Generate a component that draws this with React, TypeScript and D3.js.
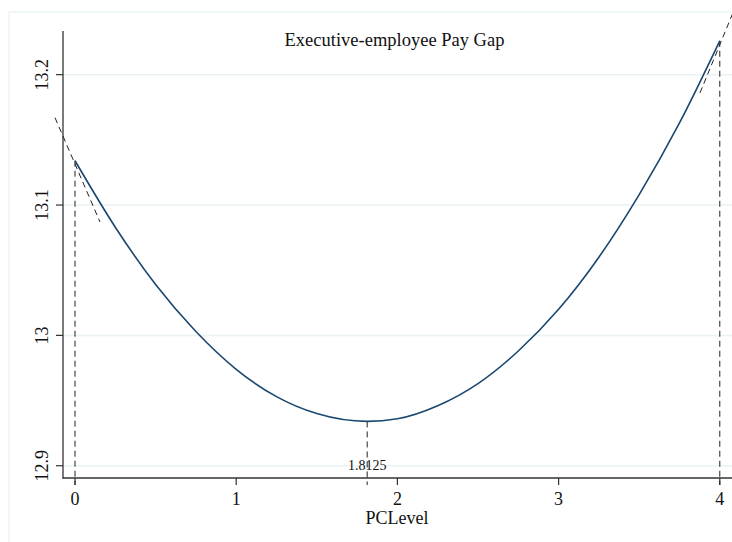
import React, { useEffect } from "react";
import * as d3 from "d3";

// fitted curve
const pcLevel = [0, 0.25, 0.5, 0.75, 1, 1.25, 1.5, 1.8125, 2, 2.25, 2.5, 2.75, 3, 3.25, 3.5, 3.75, 4];
const payGap = [13.134, 13.083, 13.039, 13.003, 12.974, 12.953, 12.94, 12.934, 12.936, 12.946, 12.963, 12.988, 13.02, 13.06, 13.108, 13.163, 13.226];

const xTicks = [0, 1, 2, 3, 4];
const yTicks = [12.9, 13, 13.1, 13.2];

// slope segments at the two ends
const leftSlopeX = [-0.124, 0.155];
const leftSlopeY = [13.167, 13.087];
const rightSlopeX = [3.877, 4.13];
const rightSlopeY = [13.186, 13.262];

const turningPoint = 1.8125;
const turningLabel = "1.8125";

const title = "Executive-employee Pay Gap";
const xTitle = "PCLevel";

const W = 732,
  H = 542;

const App = () => {
  useEffect(() => {
    document.body.style.margin = "0";
  }, []);

  const x = d3.scaleLinear().domain([-0.0745, 4.0745]).range([63, 731.8]);
  const y = d3.scaleLinear().domain([12.8906, 13.2335]).range([478, 31]);

  const pts = pcLevel.map((v, i) => ({ x: v, y: payGap[i] }));
  const curve = d3
    .line<{ x: number; y: number }>()
    .x((d) => x(d.x))
    .y((d) => y(d.y))
    .curve(d3.curveMonotoneX)(pts);

  const seg = (xs: number[], ys: number[]) =>
    d3.line<number>().x((d) => x(d)).y((d, i) => y(ys[i]))(xs);

  const first = pts[0],
    last = pts[pts.length - 1],
    low = pts[pcLevel.indexOf(turningPoint)];

  const font = "'Liberation Serif', 'Times New Roman', serif";
  const dash = "6 4";
  const ink = "#333";

  return (
    <svg width={W} height={H} style={{ display: "block" }} fontFamily={font}>
      <rect x={0} y={0} width={W} height={H} fill="#fff" />
      {/* outer frame */}
      <rect x={9} y={12} width={W} height={H} fill="none" stroke="#edf3f3" strokeWidth={1.5} />

      {/* grid */}
      {yTicks.map((t) => (
        <line key={t} x1={63} x2={W} y1={y(t)} y2={y(t)} stroke="#eaf2f3" strokeWidth={1.5} />
      ))}

      {/* axes */}
      <line x1={63} x2={63} y1={31} y2={478.5} stroke={ink} strokeWidth={1.3} />
      <line x1={62.5} x2={W} y1={478} y2={478} stroke={ink} strokeWidth={1.3} />
      {yTicks.map((t) => (
        <g key={t}>
          <line x1={56} x2={63} y1={y(t)} y2={y(t)} stroke={ink} strokeWidth={1.2} />
          <text
            transform={`translate(48,${y(t)}) rotate(-90)`}
            textAnchor="middle"
            fontSize={18}
            fill="#111"
          >
            {t}
          </text>
        </g>
      ))}
      {xTicks.map((t) => (
        <g key={t}>
          <line x1={x(t)} x2={x(t)} y1={478} y2={485} stroke={ink} strokeWidth={1.2} />
          <text x={x(t)} y={505} textAnchor="middle" fontSize={18} fill="#111">
            {t}
          </text>
        </g>
      ))}
      <text x={397} y={524} textAnchor="middle" fontSize={18} fill="#111">
        {xTitle}
      </text>
      <text x={394.5} y={46} textAnchor="middle" fontSize={18.5} fill="#111">
        {title}
      </text>

      {/* dashed guides */}
      <line x1={x(first.x)} x2={x(first.x)} y1={y(first.y)} y2={485} stroke="#222" strokeDasharray={dash} />
      <line x1={x(last.x)} x2={x(last.x)} y1={y(last.y)} y2={485} stroke="#222" strokeDasharray={dash} />
      <line x1={x(low.x)} x2={x(low.x)} y1={y(low.y)} y2={485} stroke="#222" strokeDasharray={dash} />
      <path d={seg(leftSlopeX, leftSlopeY) || ""} fill="none" stroke="#222" strokeDasharray={dash} />
      <path d={seg(rightSlopeX, rightSlopeY) || ""} fill="none" stroke="#222" strokeDasharray={dash} />
      <text x={x(turningPoint)} y={470} textAnchor="middle" fontSize={14} fill="#111">
        {turningLabel}
      </text>

      <path d={curve || ""} fill="none" stroke="#1a476f" strokeWidth={1.6} />
    </svg>
  );
};

export default App;
